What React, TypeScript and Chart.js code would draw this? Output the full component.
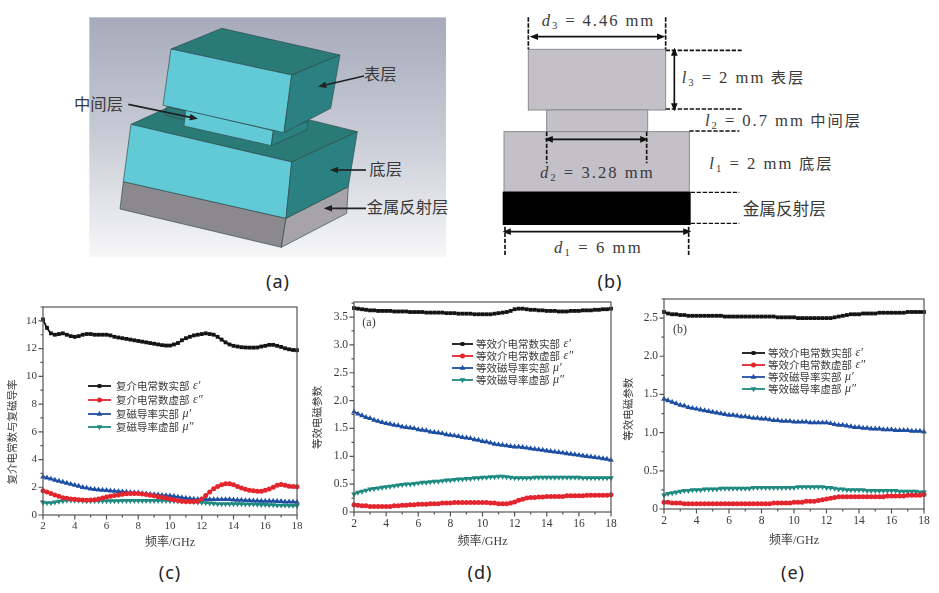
import React, { useEffect, useRef } from "react";
import { Chart, registerables } from "chart.js";
import { drawPoint } from "chart.js/helpers";

Chart.register(...registerables);

const CJK = "'Liberation Serif','Noto Sans CJK SC'";
const TEXT = "#3a3a3a";

// frequency axis, GHz, one marker each quarter GHz
const frequency = [
  2, 2.25, 2.5, 2.75, 3, 3.25, 3.5, 3.75, 4, 4.25, 4.5, 4.75, 5, 5.25, 5.5, 5.75,
  6, 6.25, 6.5, 6.75, 7, 7.25, 7.5, 7.75, 8, 8.25, 8.5, 8.75, 9, 9.25, 9.5, 9.75,
  10, 10.25, 10.5, 10.75, 11, 11.25, 11.5, 11.75, 12, 12.25, 12.5, 12.75, 13, 13.25, 13.5, 13.75,
  14, 14.25, 14.5, 14.75, 15, 15.25, 15.5, 15.75, 16, 16.25, 16.5, 16.75, 17, 17.25, 17.5, 17.75, 18,
];

// panel (c)
const cEpsReal = [
  14.1, 13.5, 13.1, 13.0, 13.05, 13.1, 13.0, 12.9, 12.85, 12.9, 13.0, 13.05, 13.05, 13.0, 13.0, 13.0,
  13.0, 12.95, 12.85, 12.8, 12.75, 12.7, 12.65, 12.6, 12.55, 12.5, 12.45, 12.4, 12.35, 12.3, 12.25, 12.22,
  12.22, 12.3, 12.4, 12.6, 12.75, 12.85, 12.95, 13.0, 13.05, 13.1, 13.05, 13.0, 12.85, 12.65, 12.45, 12.3,
  12.2, 12.15, 12.1, 12.08, 12.07, 12.07, 12.08, 12.15, 12.2, 12.27, 12.27, 12.2, 12.12, 12.02, 11.95, 11.9, 11.88,
];
const cEpsImag = [
  1.75, 1.65, 1.55, 1.45, 1.35, 1.25, 1.2, 1.15, 1.13, 1.1, 1.08, 1.07, 1.08, 1.1, 1.15, 1.22,
  1.3, 1.35, 1.4, 1.45, 1.5, 1.53, 1.55, 1.55, 1.55, 1.52, 1.48, 1.42, 1.38, 1.32, 1.28, 1.22,
  1.15, 1.1, 1.05, 1.0, 0.98, 0.97, 0.97, 1.0, 1.15, 1.4, 1.65, 1.9, 2.05, 2.18, 2.25, 2.25,
  2.18, 2.05, 1.95, 1.85, 1.78, 1.75, 1.72, 1.72, 1.78, 1.88, 2.0, 2.15, 2.2, 2.15, 2.08, 2.05, 2.03,
];
const cMuReal = [
  2.75, 2.68, 2.6, 2.52, 2.45, 2.38, 2.3, 2.22, 2.15, 2.08, 2.0, 1.95, 1.88, 1.85, 1.82, 1.8,
  1.78, 1.75, 1.72, 1.7, 1.68, 1.65, 1.63, 1.62, 1.6, 1.55, 1.52, 1.5, 1.48, 1.45, 1.42, 1.4,
  1.38, 1.35, 1.3, 1.25, 1.22, 1.18, 1.15, 1.13, 1.12, 1.12, 1.12, 1.12, 1.12, 1.12, 1.12, 1.12,
  1.1, 1.08, 1.07, 1.05, 1.05, 1.03, 1.02, 1.0, 1.0, 1.0, 1.0, 0.98, 0.98, 0.95, 0.95, 0.95, 0.93,
];
const cMuImag = [
  0.9, 0.88, 0.88, 0.92, 0.98, 1.02, 1.05, 1.07, 1.05, 1.05, 1.03, 1.02, 1.02, 1.02, 1.02, 1.02,
  1.02, 1.02, 1.02, 1.02, 1.03, 1.03, 1.03, 1.03, 1.03, 1.03, 1.03, 1.03, 1.03, 1.03, 1.03, 1.03,
  1.02, 1.02, 1.0, 1.0, 0.98, 0.97, 0.95, 0.93, 0.9, 0.88, 0.85, 0.83, 0.8, 0.8, 0.8, 0.8,
  0.8, 0.8, 0.8, 0.78, 0.78, 0.78, 0.76, 0.75, 0.75, 0.73, 0.72, 0.7, 0.7, 0.7, 0.68, 0.68, 0.67,
];

// panel (d)
const dEpsReal = [
  3.66, 3.65, 3.64, 3.63, 3.62, 3.62, 3.61, 3.61, 3.61, 3.61, 3.6, 3.6, 3.6, 3.6, 3.59, 3.59,
  3.59, 3.59, 3.58, 3.58, 3.58, 3.58, 3.58, 3.57, 3.57, 3.57, 3.56, 3.56, 3.56, 3.56, 3.55, 3.55,
  3.55, 3.55, 3.55, 3.56, 3.57, 3.58, 3.59, 3.61, 3.64, 3.65, 3.65, 3.64, 3.63, 3.63, 3.62, 3.62,
  3.61, 3.61, 3.61, 3.6, 3.6, 3.6, 3.61, 3.61, 3.61, 3.62, 3.62, 3.62, 3.63, 3.63, 3.64, 3.64, 3.65,
];
const dEpsImag = [
  0.13, 0.12, 0.11, 0.11, 0.1, 0.1, 0.1, 0.1, 0.1, 0.1, 0.11, 0.11, 0.12, 0.12, 0.13, 0.13,
  0.14, 0.14, 0.14, 0.15, 0.15, 0.15, 0.16, 0.16, 0.16, 0.17, 0.17, 0.17, 0.17, 0.17, 0.17, 0.17,
  0.17, 0.17, 0.16, 0.16, 0.15, 0.15, 0.15, 0.16, 0.18, 0.21, 0.23, 0.25, 0.26, 0.26, 0.27, 0.27,
  0.28, 0.28, 0.28, 0.28, 0.28, 0.29, 0.29, 0.29, 0.29, 0.29, 0.3, 0.3, 0.3, 0.3, 0.3, 0.3, 0.31,
];
const dMuReal = [
  1.8, 1.76, 1.73, 1.7, 1.68, 1.65, 1.63, 1.61, 1.59, 1.58, 1.56, 1.55, 1.53, 1.52, 1.51, 1.5,
  1.48, 1.47, 1.46, 1.44, 1.43, 1.42, 1.41, 1.39, 1.38, 1.37, 1.36, 1.34, 1.33, 1.32, 1.3, 1.29,
  1.27, 1.26, 1.24, 1.22, 1.21, 1.2, 1.19, 1.18, 1.17, 1.17, 1.16, 1.15, 1.14, 1.13, 1.12, 1.11,
  1.1, 1.09, 1.08, 1.07, 1.06, 1.05, 1.04, 1.03, 1.02, 1.01, 1.0, 0.99, 0.98, 0.97, 0.96, 0.95, 0.93,
];
const dMuImag = [
  0.32, 0.35, 0.37, 0.39, 0.41, 0.42, 0.43, 0.44, 0.45, 0.46, 0.47, 0.48, 0.49, 0.5, 0.5, 0.51,
  0.52, 0.53, 0.53, 0.54, 0.55, 0.55, 0.56, 0.57, 0.57, 0.58, 0.59, 0.59, 0.6, 0.6, 0.61, 0.61,
  0.62, 0.62, 0.63, 0.63, 0.64, 0.64, 0.63, 0.62, 0.61, 0.61, 0.61, 0.61, 0.61, 0.62, 0.62, 0.62,
  0.62, 0.62, 0.62, 0.62, 0.62, 0.62, 0.62, 0.62, 0.62, 0.61, 0.61, 0.61, 0.61, 0.61, 0.61, 0.61, 0.61,
];

// panel (e)
const eEpsReal = [
  2.58, 2.56, 2.55, 2.55, 2.54, 2.54, 2.53, 2.53, 2.53, 2.53, 2.53, 2.53, 2.53, 2.53, 2.53, 2.52,
  2.52, 2.52, 2.52, 2.52, 2.52, 2.52, 2.52, 2.52, 2.52, 2.52, 2.52, 2.52, 2.51, 2.51, 2.51, 2.51,
  2.51, 2.5, 2.5, 2.5, 2.5, 2.5, 2.5, 2.5, 2.5, 2.5, 2.51, 2.52, 2.53, 2.54, 2.55, 2.55,
  2.55, 2.56, 2.56, 2.56, 2.56, 2.57, 2.57, 2.57, 2.57, 2.57, 2.57, 2.57, 2.58, 2.58, 2.58, 2.58, 2.58,
];
const eEpsImag = [
  0.09, 0.09, 0.08, 0.08, 0.08, 0.07, 0.07, 0.07, 0.07, 0.07, 0.07, 0.07, 0.07, 0.07, 0.07, 0.07,
  0.07, 0.07, 0.07, 0.07, 0.07, 0.07, 0.07, 0.07, 0.07, 0.07, 0.07, 0.08, 0.08, 0.08, 0.08, 0.08,
  0.09, 0.09, 0.09, 0.1, 0.1, 0.1, 0.11, 0.12, 0.13, 0.14, 0.15, 0.16, 0.16, 0.16, 0.16, 0.16,
  0.16, 0.16, 0.16, 0.16, 0.16, 0.16, 0.16, 0.17, 0.17, 0.17, 0.17, 0.17, 0.18, 0.18, 0.18, 0.18, 0.19,
];
const eMuReal = [
  1.44, 1.42, 1.4, 1.38, 1.36, 1.35, 1.33, 1.32, 1.31, 1.3, 1.29, 1.28, 1.27, 1.26, 1.25, 1.24,
  1.23, 1.23, 1.22, 1.21, 1.21, 1.2, 1.19, 1.19, 1.18, 1.18, 1.17, 1.16, 1.16, 1.15, 1.15, 1.15,
  1.14, 1.14, 1.14, 1.14, 1.13, 1.13, 1.13, 1.13, 1.13, 1.12, 1.11, 1.1, 1.1, 1.09, 1.08, 1.07,
  1.07, 1.06, 1.06, 1.05, 1.05, 1.05, 1.04, 1.04, 1.04, 1.03, 1.03, 1.03, 1.03, 1.02, 1.02, 1.02, 1.01,
];
const eMuImag = [
  0.18, 0.2, 0.21, 0.22, 0.23, 0.24, 0.24, 0.25, 0.25, 0.25, 0.26, 0.26, 0.26, 0.26, 0.27, 0.27,
  0.27, 0.27, 0.27, 0.27, 0.27, 0.27, 0.28, 0.28, 0.28, 0.28, 0.28, 0.28, 0.28, 0.28, 0.28, 0.28,
  0.28, 0.29, 0.29, 0.29, 0.29, 0.29, 0.29, 0.29, 0.28, 0.28, 0.27, 0.26, 0.26, 0.25, 0.25, 0.25,
  0.25, 0.25, 0.24, 0.24, 0.24, 0.24, 0.24, 0.24, 0.24, 0.24, 0.23, 0.23, 0.23, 0.23, 0.23, 0.22, 0.22,
];

const symbols = ["ε′", "ε″", "μ′", "μ″"];
const cNames = ["复介电常数实部", "复介电常数虚部", "复磁导率实部", "复磁导率虚部"];
const effNames = ["等效介电常数实部", "等效介电常数虚部", "等效磁导率实部", "等效磁导率虚部"];
const xTitle = "频率/GHz";

const seriesStyles = [
  { color: "#141414", pointStyle: "rect", radius: 2.7, rotation: 0 },
  { color: "#e4252e", pointStyle: "circle", radius: 2.5, rotation: 0 },
  { color: "#1f4fa3", pointStyle: "triangle", radius: 3.3, rotation: 0 },
  { color: "#1f8a80", pointStyle: "triangle", radius: 3.3, rotation: 180 },
];

const axisFrame = {
  id: "axisFrame",
  afterDatasetsDraw(chart: any) {
    const { ctx, chartArea: a, scales } = chart;
    ctx.save();
    ctx.strokeStyle = "#555";
    ctx.lineWidth = 1.2;
    ctx.strokeRect(a.left, a.top, a.right - a.left, a.bottom - a.top);
    ctx.beginPath();
    scales.x.ticks.forEach((t: any, i: number) => {
      const px = scales.x.getPixelForTick(i);
      ctx.moveTo(px, a.bottom);
      ctx.lineTo(px, a.bottom + (t.label === "" ? 2.5 : 4.5));
    });
    scales.y.ticks.forEach((t: any, i: number) => {
      const py = scales.y.getPixelForTick(i);
      ctx.moveTo(a.left, py);
      ctx.lineTo(a.left - (t.label === "" ? 2.5 : 4.5), py);
    });
    ctx.stroke();
    ctx.restore();
  },
};

const insideLegend = {
  id: "insideLegend",
  afterDraw(chart: any, _args: any, opts: any) {
    const { ctx } = chart;
    ctx.save();
    chart.data.datasets.forEach((ds: any, i: number) => {
      const y = opts.rows[i];
      ctx.strokeStyle = ds.borderColor;
      ctx.lineWidth = 1.8;
      ctx.beginPath();
      ctx.moveTo(opts.lineStart, y);
      ctx.lineTo(opts.lineEnd, y);
      ctx.stroke();
      ctx.fillStyle = ds.borderColor;
      drawPoint(
        ctx,
        { pointStyle: ds.pointStyle, radius: ds.pointRadius, rotation: ds.rotation || 0, borderWidth: 0 },
        (opts.lineStart + opts.lineEnd) / 2,
        y,
      );
      ctx.fillStyle = TEXT;
      ctx.textBaseline = "middle";
      ctx.textAlign = "left";
      ctx.font = `${opts.size}px 'Noto Sans CJK SC'`;
      ctx.fillText(opts.names[i], opts.textX, y);
      const w = ctx.measureText(opts.names[i]).width;
      ctx.font = `italic ${opts.size + 1.5}px 'Liberation Serif'`;
      ctx.fillText(symbols[i], opts.textX + w + 3.5, y);
    });
    ctx.restore();
  },
};

type PanelProps = {
  box: { left: number; top: number; width: number; height: number };
  plot: { left: number; right: number; top: number; bottom: number };
  series: number[][];
  names: string[];
  yMax: number;
  yStep: number;
  yLabelStep: number;
  yTitle: string;
  yTitlePad: number;
  legend: { lineStart: number; lineEnd: number; textX: number; rows: number[]; size: number };
  tickSize: number;
};

function Panel({ box, plot, series, names, yMax, yStep, yLabelStep, yTitle, yTitlePad, legend, tickSize }: PanelProps) {
  const ref = useRef<HTMLCanvasElement>(null);
  useEffect(() => {
    const chart = new Chart(ref.current as HTMLCanvasElement, {
      type: "line",
      data: {
        labels: frequency,
        datasets: series.map((values, i) => ({
          label: `${names[i]} ${symbols[i]}`,
          data: values.map((v, k) => ({ x: frequency[k], y: v })),
          borderColor: seriesStyles[i].color,
          backgroundColor: seriesStyles[i].color,
          borderWidth: 1.8,
          pointStyle: seriesStyles[i].pointStyle,
          pointRadius: seriesStyles[i].radius,
          rotation: seriesStyles[i].rotation,
          pointBorderWidth: 0,
          tension: 0.2,
          clip: false,
        })),
      },
      options: {
        animation: false,
        responsive: false,
        maintainAspectRatio: false,
        layout: {
          padding: {
            left: 0,
            top: plot.top - box.top,
            right: box.left + box.width - plot.right,
            bottom: 0,
          },
        },
        plugins: {
          legend: { display: false },
          tooltip: { enabled: false },
          insideLegend: { ...legend, names },
        },
        scales: {
          x: {
            type: "linear",
            min: 2,
            max: 18,
            grid: { display: false, drawTicks: false },
            border: { display: false },
            afterFit: (s: any) => {
              s.height = box.top + box.height - plot.bottom;
              s.paddingLeft = 0;
              s.paddingRight = 0;
            },
            ticks: {
              stepSize: 1,
              autoSkip: false,
              maxRotation: 0,
              padding: 5,
              color: TEXT,
              font: { family: "'Liberation Serif'", size: tickSize },
              callback: (v: any) => (Number(v) % 2 === 0 ? String(v) : ""),
            },
            title: {
              display: true,
              text: xTitle,
              color: TEXT,
              font: { family: CJK, size: 12 },
              padding: { top: 0, bottom: 5 },
            },
          },
          y: {
            type: "linear",
            min: 0,
            max: yMax,
            grid: { display: false, drawTicks: false },
            border: { display: false },
            afterFit: (s: any) => {
              s.width = plot.left - box.left;
              s.paddingTop = 0;
              s.paddingBottom = 0;
            },
            ticks: {
              stepSize: yStep,
              includeBounds: false,
              autoSkip: false,
              padding: 6,
              color: TEXT,
              font: { family: "'Liberation Serif'", size: tickSize },
              callback: (v: any) => {
                const n = Number(v);
                const r = n / yLabelStep;
                if (Math.abs(r - Math.round(r)) > 1e-6) return "";
                if (n === 0) return "0";
                return yLabelStep < 1 ? n.toFixed(1) : String(n);
              },
            },
            title: {
              display: true,
              text: yTitle,
              color: TEXT,
              font: { family: CJK, size: 10.5 },
              padding: { top: yTitlePad, bottom: 0 },
            },
          },
        },
      } as any,
      plugins: [axisFrame, insideLegend],
    });
    return () => chart.destroy();
  }, []);
  return (
    <canvas
      ref={ref}
      width={box.width}
      height={box.height}
      style={{ position: "absolute", left: box.left, top: box.top, width: box.width, height: box.height }}
    />
  );
}

const cjkFont = "'Noto Sans CJK SC'";
const mathFont = "'Liberation Serif'";

function Layer3D() {
  const dark = "#2a7a78";
  const side = "#2b8181";
  const cyan = "#61cad6";
  const edge = "#2e4a4c";
  const Poly = ({ p, f }: { p: string; f: string }) => <polygon points={p} fill={f} stroke={edge} strokeWidth={2} strokeLinejoin="round" />;
  const Arrow = ({ d }: { d: number[] }) => (
    <line x1={d[0]} y1={d[1]} x2={d[2]} y2={d[3]} stroke="#222" strokeWidth={5} markerEnd="url(#headA)" />
  );
  const Label = ({ x, y, t }: { x: number; y: number; t: string }) => (
    <text x={x} y={y} fontFamily={cjkFont} fontSize={49} fill={TEXT} dominantBaseline="middle">{t}</text>
  );
  return (
    <g transform="translate(60,0) scale(0.33333)">
      <rect x={88} y={52} width={1070} height={720} fill="url(#bgA)" />
      <Poly p="180,627 190,545 678,655 664,742" f="#8b898d" />
      <Poly p="678,655 865,560 860,640 664,742" f="#a6a4a7" />
      <Poly p="213,373 419,279 892,395 695,486" f={dark} />
      <Poly p="213,373 695,486 678,655 190,545" f={cyan} />
      <Poly p="695,486 892,395 865,560 678,655" f={side} />
      <Poly p="320,320 378,333 372,360 315,345" f={dark} />
      <Poly p="377,330 640,392 634,437 372,378" f={cyan} />
      <Poly p="640,392 745,365 740,390 634,437" f={side} />
      <Poly p="333,147 485,85 840,165 695,225" f={dark} />
      <Poly p="333,147 695,225 672,398 309,316" f={cyan} />
      <Poly p="695,225 840,165 812,325 672,398" f={side} />
      <Arrow d={[912, 228, 796, 255]} />
      <Arrow d={[205, 313, 392, 352]} />
      <Arrow d={[918, 510, 832, 510]} />
      <Arrow d={[918, 625, 814, 625]} />
      <Label x={912} y={226} t="表层" />
      <Label x={42} y={317} t="中间层" />
      <Label x={928} y={512} t="底层" />
      <Label x={920} y={627} t="金属反射层" />
    </g>
  );
}

function Eq({ x, y, v, s, rest, tail, w }: { x: number; y: number; v: string; s: string; rest: string; tail?: string; w: number }) {
  return (
    <text x={x} y={y} fontSize={50} fill={TEXT} fontFamily={mathFont} xmlSpace="preserve" textLength={w} lengthAdjust="spacing">
      <tspan fontStyle="italic">{v}</tspan>
      <tspan fontSize={32} dy={8}>{s}</tspan>
      <tspan dy={-8}>{" " + rest}</tspan>
      {tail ? <tspan fontFamily={cjkFont} fontSize={46}>{" " + tail}</tspan> : null}
    </text>
  );
}

function Layer2D() {
  const gray = "#c3c1c7";
  const Dash = ({ d, w = 5 }: { d: number[]; w?: number }) => (
    <line x1={d[0]} y1={d[1]} x2={d[2]} y2={d[3]} stroke="#111" strokeWidth={w} strokeDasharray="13 5" />
  );
  const Both = ({ d }: { d: number[] }) => (
    <line x1={d[0]} y1={d[1]} x2={d[2]} y2={d[3]} stroke="#111" strokeWidth={5} markerStart="url(#headB)" markerEnd="url(#headC)" />
  );
  return (
    <g transform="translate(480,0) scale(0.33333)">
      <rect x={145} y={148} width={412} height={182} fill={gray} stroke="#8a8a8e" strokeWidth={3} />
      <rect x={200} y={330} width={303} height={65} fill={gray} stroke="#8a8a8e" strokeWidth={3} />
      <rect x={72} y={395} width={556} height={180} fill={gray} stroke="#8a8a8e" strokeWidth={3} />
      <rect x={68} y={575} width={564} height={100} fill="#000" />
      <Dash d={[145, 52, 145, 148]} />
      <Dash d={[557, 52, 557, 148]} />
      <Both d={[172, 110, 533, 110]} />
      <Dash d={[557, 151, 785, 151]} />
      <Dash d={[557, 327, 785, 327]} />
      <Both d={[583, 165, 583, 312]} />
      <Dash d={[628, 393, 778, 393]} />
      <Dash d={[632, 577, 778, 577]} w={3.5} />
      <Dash d={[632, 670, 778, 670]} w={3.5} />
      <Dash d={[200, 395, 200, 490]} />
      <Dash d={[500, 395, 500, 490]} />
      <Both d={[216, 418, 483, 418]} />
      <Dash d={[75, 680, 75, 770]} />
      <Dash d={[626, 680, 626, 770]} />
      <Both d={[90, 695, 612, 695]} />
      <Eq x={185} y={78} v="d" s="3" rest="= 4.46 mm" w={335} />
      <Eq x={605} y={250} v="l" s="3" rest="= 2 mm" tail="表层" w={365} />
      <Eq x={675} y={378} v="l" s="2" rest="= 0.7 mm" tail="中间层" w={465} />
      <Eq x={688} y={508} v="l" s="1" rest="= 2 mm" tail="底层" w={367} />
      <Eq x={180} y={535} v="d" s="2" rest="= 3.28 mm" w={338} />
      <Eq x={222} y={760} v="d" s="1" rest="= 6 mm" w={260} />
      <text x={788} y={632} fontFamily={cjkFont} fontSize={50} fill={TEXT} dominantBaseline="middle">金属反射层</text>
    </g>
  );
}

const captionStyle = (x: number): React.CSSProperties => ({
  position: "absolute",
  left: x,
  top: 0,
  transform: "translateX(-50%)",
  fontFamily: "'Noto Sans'",
  fontSize: 18,
  letterSpacing: 1,
  color: "#222",
  lineHeight: "20px",
});

const captions = [
  { t: "(a)", x: 278, y: 271 },
  { t: "(b)", x: 610, y: 271 },
  { t: "(c)", x: 170, y: 562 },
  { t: "(d)", x: 480, y: 562 },
  { t: "(e)", x: 793, y: 562 },
];

const panelTag = (x: number, y: number, t: string) => (
  <div style={{ position: "absolute", left: x, top: y, transform: "translate(-50%,-50%)", fontFamily: mathFont, fontSize: 12, color: TEXT }}>{t}</div>
);

export default function App() {
  return (
    <div style={{ position: "absolute", left: 0, top: 0, width: 939, height: 593, background: "#fff", overflow: "hidden", filter: "blur(0.45px)" }}>
      <svg width={939} height={300} style={{ position: "absolute", left: 0, top: 0 }}>
        <defs>
          <linearGradient id="bgA" x1="0" y1="0" x2="0" y2="1">
            <stop offset="0" stopColor="#a6aaba" />
            <stop offset="0.5" stopColor="#c9ccd6" />
            <stop offset="1" stopColor="#f7f7f8" />
          </linearGradient>
          <marker id="headA" markerWidth="5" markerHeight="4" refX="0.5" refY="2" orient="auto">
            <path d="M0,0 L5,2 L0,4 z" fill="#222" />
          </marker>
          <marker id="headC" markerWidth="5" markerHeight="4" refX="0.5" refY="2" orient="auto">
            <path d="M0,0 L5,2 L0,4 z" fill="#111" />
          </marker>
          <marker id="headB" markerWidth="5" markerHeight="4" refX="4.5" refY="2" orient="auto">
            <path d="M5,0 L0,2 L5,4 z" fill="#111" />
          </marker>
        </defs>
        <Layer3D />
        <Layer2D />
      </svg>
      {captions.map((c) => (
        <div key={c.t} style={{ ...captionStyle(c.x), top: c.y }}>{c.t}</div>
      ))}
      <Panel
        box={{ left: 0, top: 300, width: 310, height: 255 }}
        plot={{ left: 43, right: 297, top: 307, bottom: 515 }}
        series={[cEpsReal, cEpsImag, cMuReal, cMuImag]}
        names={cNames}
        yMax={15}
        yStep={1}
        yLabelStep={2}
        yTitle={"复介电常数与复磁导率\u3000\u3000\u3000\u3000"}
        yTitlePad={7}
        legend={{ lineStart: 88, lineEnd: 111, textX: 116, rows: [86, 100, 114, 127], size: 10.5 }}
        tickSize={11}
      />
      <Panel
        box={{ left: 310, top: 295, width: 315, height: 259 }}
        plot={{ left: 354, right: 611, top: 302, bottom: 512 }}
        series={[dEpsReal, dEpsImag, dMuReal, dMuImag]}
        names={effNames}
        yMax={3.77}
        yStep={0.25}
        yLabelStep={0.5}
        yTitle={"等效电磁参数\u3000\u3000"}
        yTitlePad={2}
        legend={{ lineStart: 142, lineEnd: 163, textX: 166, rows: [49, 61, 73, 85], size: 10.5 }}
        tickSize={11.5}
      />
      <Panel
        box={{ left: 622, top: 295, width: 317, height: 258 }}
        plot={{ left: 664, right: 924, top: 299, bottom: 509 }}
        series={[eEpsReal, eEpsImag, eMuReal, eMuImag]}
        names={effNames}
        yMax={2.75}
        yStep={0.25}
        yLabelStep={0.5}
        yTitle={"等效电磁参数\u3000"}
        yTitlePad={1}
        legend={{ lineStart: 120, lineEnd: 143, textX: 146, rows: [58, 70, 82, 94], size: 10.5 }}
        tickSize={11.5}
      />
      {panelTag(369, 322, "(a)")}
      {panelTag(680, 329, "(b)")}
    </div>
  );
}
